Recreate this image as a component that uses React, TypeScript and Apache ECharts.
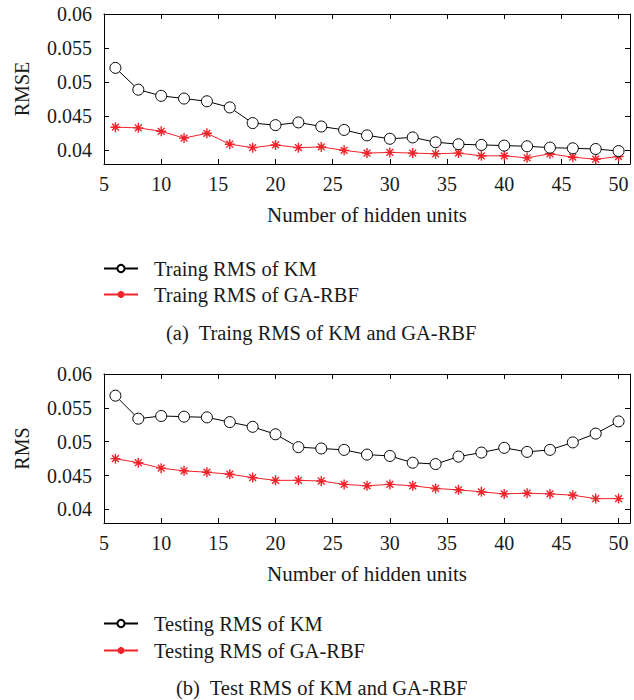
import React, { useEffect, useRef } from "react";
import * as echarts from "echarts";

const hiddenUnits = [6, 8, 10, 12, 14, 16, 18, 20, 22, 24, 26, 28, 30, 32, 34, 36, 38, 40, 42, 44, 46, 48, 50];

const trainKM = [0.0521, 0.0489, 0.048, 0.0476, 0.0472, 0.0463, 0.044, 0.0437, 0.0441, 0.0435, 0.043, 0.0422, 0.0417, 0.0419, 0.0412, 0.0409, 0.0408, 0.0407, 0.0406, 0.0404, 0.0403, 0.0402, 0.0399];
const trainGA = [0.0434, 0.0433, 0.0428, 0.0418, 0.0425, 0.0409, 0.0404, 0.0408, 0.0404, 0.0405, 0.04, 0.0396, 0.0397, 0.0396, 0.0395, 0.0396, 0.0392, 0.0392, 0.0389, 0.0395, 0.039, 0.0387, 0.0391];
const testKM = [0.0568, 0.0534, 0.0538, 0.0537, 0.0536, 0.0529, 0.0522, 0.0511, 0.0492, 0.049, 0.0488, 0.0481, 0.0479, 0.0469, 0.0467, 0.0478, 0.0484, 0.0491, 0.0485, 0.0488, 0.0499, 0.0512, 0.053];
const testGA = [0.0475, 0.0469, 0.0461, 0.0457, 0.0455, 0.0452, 0.0447, 0.0443, 0.0443, 0.0442, 0.0437, 0.0435, 0.0437, 0.0435, 0.0431, 0.0429, 0.0426, 0.0423, 0.0424, 0.0423, 0.0421, 0.0416, 0.0416];

const seriesNames = {
  trainKM: "Traing RMS of KM",
  trainGA: "Traing RMS of GA-RBF",
  testKM: "Testing RMS of KM",
  testGA: "Testing RMS of GA-RBF",
};
const captions = ["(a)  Traing RMS of KM and GA-RBF", "(b)  Test RMS of KM and GA-RBF"];
const xName = "Number of hidden units";
const yNames = ["RMSE", "RMS"];
const xRange = [5, 51];
const xStep = 5;
const yRange = [0.038, 0.06];
const yStep = 0.005;

const FONT = '"Liberation Serif", "Times New Roman", serif';
const TEXT = "#1a1a1a";
const RED = "#f2222a";
const ASTERISK = "path://M5 0L5 10M0 5L10 5M1.6 1.6L8.4 8.4M1.6 8.4L8.4 1.6";

function pairs(ys: number[]) {
  return hiddenUnits.map((x, i) => [x, ys[i]]);
}

export default function App() {
  const ref = useRef<HTMLDivElement>(null);
  useEffect(() => {
    if (!ref.current) return;
    const chart = echarts.init(ref.current, null, { renderer: "svg" });
    const grids = [
      { left: 104, top: 14, width: 526, height: 150 },
      { left: 104, top: 374, width: 526, height: 149 },
    ];
    const axisLine = { show: true, onZero: false, lineStyle: { color: "#000", width: 1 } };
    const tick = { show: true, inside: true, length: 5, lineStyle: { color: "#000" } };
    const xAxes: any[] = [];
    const yAxes: any[] = [];
    grids.forEach((_, g) => {
      xAxes.push({
        gridIndex: g,
        type: "value",
        position: "bottom",
        min: xRange[0],
        max: xRange[1],
        interval: xStep,
        axisLine,
        axisTick: tick,
        axisLabel: { margin: 10, fontSize: 20, fontFamily: FONT, color: TEXT, showMaxLabel: false },
        splitLine: { show: false },
        name: xName,
        nameLocation: "middle",
        nameGap: 40,
        nameTextStyle: { fontSize: 21, fontFamily: FONT, color: TEXT },
      });
      xAxes.push({
        gridIndex: g,
        type: "value",
        position: "top",
        min: xRange[0],
        max: xRange[1],
        interval: xStep,
        axisLine,
        axisTick: tick,
        axisLabel: { show: false },
        splitLine: { show: false },
      });
      yAxes.push({
        gridIndex: g,
        type: "value",
        position: "left",
        min: yRange[0],
        max: yRange[1],
        splitNumber: 4,
        minInterval: yStep,
        maxInterval: yStep,
        axisLine,
        axisTick: tick,
        axisLabel: { margin: 12, fontSize: 20, fontFamily: FONT, color: TEXT, showMinLabel: false },
        splitLine: { show: false },
        name: yNames[g],
        nameLocation: "middle",
        nameRotate: 90,
        nameGap: 72,
        nameTextStyle: { fontSize: 20, fontFamily: FONT, color: TEXT },
      });
      yAxes.push({
        gridIndex: g,
        type: "value",
        position: "right",
        min: yRange[0],
        max: yRange[1],
        splitNumber: 4,
        minInterval: yStep,
        maxInterval: yStep,
        axisLine,
        axisTick: tick,
        axisLabel: { show: false },
        splitLine: { show: false },
      });
    });

    const kmSeries = (name: string, data: number[], g: number) => ({
      name,
      type: "line",
      xAxisIndex: g * 2,
      yAxisIndex: g * 2,
      data: pairs(data),
      symbol: "circle",
      symbolSize: 11,
      showAllSymbol: true,
      lineStyle: { color: "#000", width: 1 },
      itemStyle: { color: "#fff", borderColor: "#000", borderWidth: 1 },
      z: 3,
    });
    const gaSeries = (name: string, data: number[], g: number) => ({
      name,
      type: "line",
      xAxisIndex: g * 2,
      yAxisIndex: g * 2,
      data: pairs(data),
      symbol: ASTERISK,
      symbolSize: 10,
      showAllSymbol: true,
      lineStyle: { color: RED, width: 1 },
      itemStyle: { color: RED, borderColor: RED, borderWidth: 1.4 },
      z: 2,
    });

    const legendBase = {
      orient: "vertical",
      left: 103,
      padding: 0,
      itemWidth: 34,
      itemHeight: 9,
      selectedMode: false,
      textStyle: { fontSize: 20.5, lineHeight: 20, fontFamily: FONT, color: TEXT, padding: [0, 0, 0, 11] },
    };
    const captionStyle = { fontSize: 20.5, lineHeight: 20, fontWeight: "normal", fontFamily: FONT, color: TEXT };

    chart.setOption({
      animation: false,
      backgroundColor: "#fff",
      grid: grids,
      xAxis: xAxes,
      yAxis: yAxes,
      legend: [
        { ...legendBase, top: 258, itemGap: 5, data: [seriesNames.trainKM, seriesNames.trainGA] },
        { ...legendBase, top: 613, itemGap: 6, data: [seriesNames.testKM, seriesNames.testGA] },
      ],
      title: [
        { text: captions[0], left: 166, top: 323, padding: 0, textStyle: captionStyle },
        { text: captions[1], left: 176, top: 678, padding: 0, textStyle: captionStyle },
      ],
      series: [
        kmSeries(seriesNames.trainKM, trainKM, 0),
        gaSeries(seriesNames.trainGA, trainGA, 0),
        kmSeries(seriesNames.testKM, testKM, 1),
        gaSeries(seriesNames.testGA, testGA, 1),
      ],
    });
    return () => chart.dispose();
  }, []);
  return (
    <div
      ref={ref}
      style={{ position: "absolute", left: 0, top: 0, width: 634, height: 700, background: "#fff" }}
    />
  );
}
